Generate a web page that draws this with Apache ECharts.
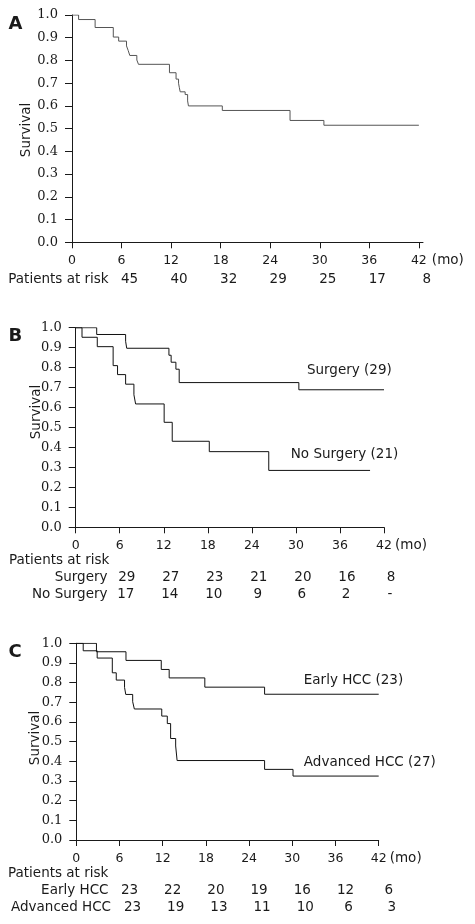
<!DOCTYPE html>
<html><head><meta charset="utf-8">
<script src="https://cdn.jsdelivr.net/npm/echarts@6/dist/echarts.min.js"></script>
<style>html,body{margin:0;padding:0;background:#fff}#c{width:475px;height:924px}</style>
</head><body><div id="c"></div>
<script>
// ---------- data ----------
const xTickValues = [0, 6, 12, 18, 24, 30, 36, 42];
const xUnitLabel = '(mo)';
const yAxisTitle = 'Survival';
const riskTitle = 'Patients at risk';

// Panel A: all patients
const aTime = [0, 0.8, 2.8, 5.0, 5.65, 6.6, 6.8, 7.0, 7.85, 8.05, 11.8, 12.6, 12.9, 13.0, 13.1, 13.7, 14.0, 14.1, 18.2, 26.4, 30.5, 42];
const aSurv = [1, 0.98, 0.945, 0.903, 0.885, 0.864, 0.844, 0.822, 0.802, 0.783, 0.746, 0.718, 0.70, 0.68, 0.662, 0.65, 0.622, 0.60, 0.58, 0.536, 0.515, 0.515];
const aRisk = [45, 40, 32, 29, 25, 17, 8];

// Panel B: surgery vs no surgery
const bSurgeryName = 'Surgery';
const bSurgeryLabel = 'Surgery (29)';
const bSurgeryTime = [0, 2.86, 6.8, 6.95, 12.7, 13.0, 13.65, 14.1, 30.4, 42];
const bSurgerySurv = [1, 0.966, 0.932, 0.897, 0.862, 0.827, 0.792, 0.725, 0.689, 0.689];
const bNoSurgeryName = 'No Surgery';
const bNoSurgeryLabel = 'No Surgery (21)';
const bNoSurgeryTime = [0, 0.86, 2.94, 5.1, 5.7, 6.8, 7.93, 8.16, 12.05, 13.15, 18.2, 26.3, 40.1];
const bNoSurgerySurv = [1, 0.952, 0.905, 0.81, 0.765, 0.717, 0.664, 0.618, 0.526, 0.431, 0.379, 0.285, 0.285];
const bRiskSurgery = ['29', '27', '23', '21', '20', '16', '8'];
const bRiskNoSurgery = ['17', '14', '10', '9', '6', '2', '-'];

// Panel C: early vs advanced HCC
const cEarlyName = 'Early HCC';
const cEarlyLabel = 'Early HCC (23)';
const cEarlyTime = [0, 2.8, 6.9, 11.8, 12.9, 17.85, 26.15, 42];
const cEarlySurv = [1, 0.957, 0.913, 0.867, 0.824, 0.777, 0.741, 0.741];
const cAdvancedName = 'Advanced HCC';
const cAdvancedLabel = 'Advanced HCC (27)';
const cAdvancedTime = [0, 0.96, 2.9, 5.0, 5.55, 6.7, 6.87, 7.83, 8.06, 11.87, 12.64, 13.1, 13.8, 14.0, 26.15, 30.1, 42];
const cAdvancedSurv = [1, 0.962, 0.925, 0.85, 0.813, 0.776, 0.74, 0.703, 0.666, 0.63, 0.592, 0.516, 0.478, 0.404, 0.359, 0.325, 0.325];
const cRiskEarly = ['23', '22', '20', '19', '16', '12', '6'];
const cRiskAdvanced = ['23', '19', '13', '11', '10', '6', '3'];

const panelLetters = ['A', 'B', 'C'];

// ---------- chart ----------
const SANS = 'DejaVu Sans';
const SERIF = 'DejaVu Serif';
const INK = '#1a1a1a';
const FONT = '13.5px "' + SANS + '"';
const pairs = (t, s) => t.map((v, i) => [v, s[i]]);

const grids = [
  { left: 72, top: 15, width: 351, height: 227.3 },
  { left: 75.7, top: 327.7, width: 308.3, height: 199.6 },
  { left: 76.3, top: 643.3, width: 302.4, height: 196.7 }
];
const xMax = [42.5, 42, 42];

const xAxes = grids.map((g, i) => ({
  type: 'value', gridIndex: i, min: 0, max: xMax[i], interval: 6,
  axisLine: { show: true, lineStyle: { color: INK, width: 1 } },
  axisTick: { show: true, length: 6, lineStyle: { color: INK }, customValues: xTickValues },
  axisLabel: { fontFamily: SANS, fontSize: 12.5, color: INK, margin: 12, customValues: xTickValues },
  splitLine: { show: false }
}));
const yAxes = grids.map((g, i) => ({
  type: 'value', gridIndex: i, min: 0, max: 1, interval: 0.1,
  axisLine: { show: true, lineStyle: { color: INK, width: 1 } },
  axisTick: { show: true, length: 7, lineStyle: { color: INK } },
  axisLabel: { fontFamily: SERIF, fontSize: 13, color: INK, margin: 14, padding: [4, 0, 0, 0], formatter: v => v.toFixed(1) },
  splitLine: { show: false }
}));

function km(name, t, s, gi, color) {
  return {
    name, type: 'line', xAxisIndex: gi, yAxisIndex: gi, step: 'end',
    data: pairs(t, s), showSymbol: false, symbol: 'none', animation: false,
    lineStyle: { color, width: 1 }, silent: true
  };
}

const chart = echarts.init(document.getElementById('c'), null, { renderer: 'canvas' });
chart.setOption({
  animation: false,
  backgroundColor: '#fff',
  grid: grids,
  xAxis: xAxes,
  yAxis: yAxes,
  series: [
    km('All', aTime, aSurv, 0, '#555'),
    km(bSurgeryName, bSurgeryTime, bSurgerySurv, 1, '#111'),
    km(bNoSurgeryName, bNoSurgeryTime, bNoSurgerySurv, 1, '#111'),
    km(cEarlyName, cEarlyTime, cEarlySurv, 2, '#111'),
    km(cAdvancedName, cAdvancedTime, cAdvancedSurv, 2, '#111')
  ]
});

// ---------- text annotations placed through the axes ----------
const px = (gi, x, y) => chart.convertToPixel({ gridIndex: gi }, [x, y]);
const els = [];
function txt(text, x, y, align, opts, extra) {
  els.push(Object.assign({ type: 'text', x, y, silent: true, style: Object.assign({
    text, fill: INK, font: FONT, textAlign: align || 'left', textVerticalAlign: 'middle'
  }, opts || {}) }, extra || {}));
}
// panel letters
[0, 1, 2].forEach(gi => {
  const top = px(gi, 0, 1)[1];
  txt(panelLetters[gi], 8.5, top + 9, 'left', { font: 'bold 18px "' + SANS + '"' });
});
// y-axis titles (rotated)
const titleDx = [46, 39, 41];
const titleDy = [1.3, -15.5, -3.7];
[0, 1, 2].forEach(gi => {
  const p = px(gi, 0, 0.5);
  txt(yAxisTitle, p[0] - titleDx[gi], p[1] + titleDy[gi], 'center', null, { rotation: Math.PI / 2 });
});
// (mo) units after the 42 tick
const moOffset = [13, 11, 11];
[0, 1, 2].forEach(gi => {
  const p = px(gi, 42, 0);
  txt(xUnitLabel, p[0] + moOffset[gi], p[1] + 18, 'left');
});
// risk tables
function riskRow(gi, values, dy, shift) {
  values.forEach((v, i) => {
    const p = px(gi, xTickValues[i + 1], 0);
    txt(String(v), p[0] + shift, p[1] + dy, 'center');
  });
}
const a0 = px(0, 0, 0);
txt(riskTitle, 8.3, a0[1] + 37, 'left');
riskRow(0, aRisk, 37, 8);

const b0 = px(1, 0, 0);
txt(riskTitle, 9, b0[1] + 33, 'left');
txt(bSurgeryName, 107.5, b0[1] + 50.4, 'right');
txt(bNoSurgeryName, 107.5, b0[1] + 67, 'right');
riskRow(1, bRiskSurgery, 50.4, 7);
riskRow(1, bRiskNoSurgery, 67, 6);

const c0 = px(2, 0, 0);
txt(riskTitle, 8, c0[1] + 33.3, 'left');
txt(cEarlyName, 108.5, c0[1] + 50.7, 'right');
txt(cAdvancedName, 111, c0[1] + 67.3, 'right');
riskRow(2, cRiskEarly, 50.7, 10);
riskRow(2, cRiskAdvanced, 67.3, 13);

// curve labels
let p;
p = px(1, 31.5, 0.785); txt(bSurgeryLabel, p[0], p[1], 'left');
p = px(1, 29.3, 0.366); txt(bNoSurgeryLabel, p[0], p[1], 'left');
p = px(2, 31.6, 0.813); txt(cEarlyLabel, p[0], p[1], 'left');
p = px(2, 31.6, 0.393); txt(cAdvancedLabel, p[0], p[1], 'left');

chart.setOption({ graphic: { elements: els } });
</script></body></html>
